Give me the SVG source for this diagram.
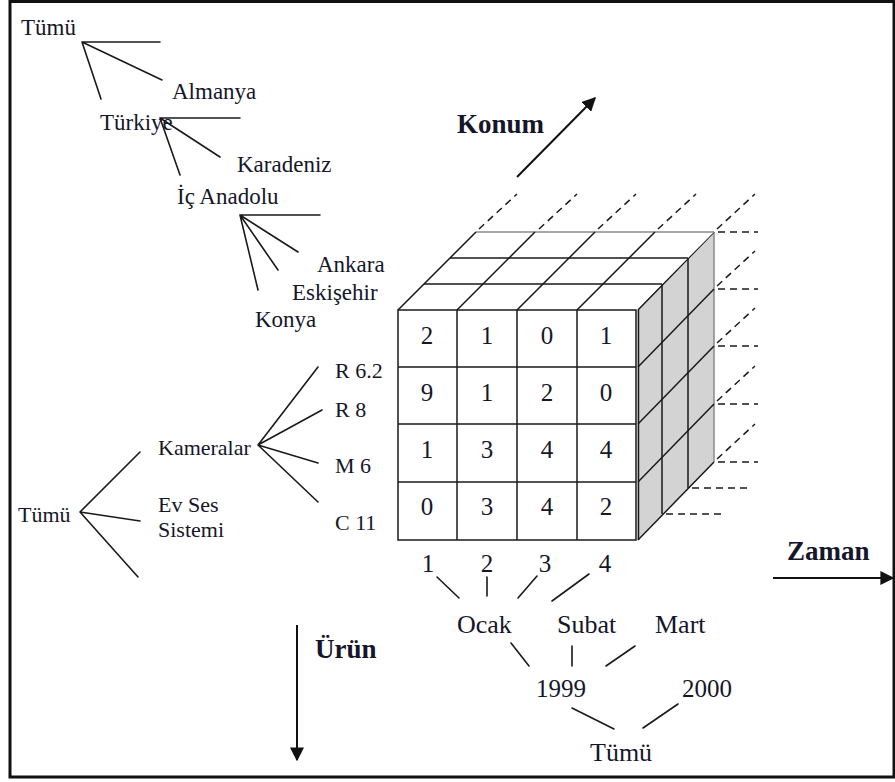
<svg xmlns="http://www.w3.org/2000/svg" width="895" height="782" viewBox="0 0 895 782">
<defs>
<style>
.t{font-family:"Liberation Serif","Times New Roman",serif;fill:#16162a}
.s22{font-size:22px}.s23{font-size:23px}.s25{font-size:25px}.s26{font-size:26px}
.b{font-weight:bold;font-size:27px}
.ln{stroke:#1a1a1a;stroke-width:1.6;fill:none;stroke-linecap:round}
.cl{stroke:#1a1a1a;stroke-width:1.5;fill:none}
.gl{stroke:#8a8a8a;stroke-width:1.5;fill:none}
.ds{stroke:#1a1a1a;stroke-width:1.5;fill:none;stroke-dasharray:7 5}
.ar{stroke:#111;stroke-width:2;fill:none}
</style>
<marker id="ah" viewBox="0 0 10 10" refX="9" refY="5" markerWidth="7" markerHeight="7" markerUnits="strokeWidth" orient="auto">
<path d="M0,0 L10,5 L0,10 z" fill="#111"/>
</marker>
</defs>
<rect x="0" y="0" width="895" height="782" fill="#fff"/>
<rect x="10" y="1.5" width="884" height="775.5" fill="none" stroke="#111" stroke-width="3"/>

<g id="connectors">
<path class="ln" d="M82,42 H160 M82,42 L162,80 M82,42 L101,99"/>
<path class="ln" d="M160,118 H240 M160,118 L220,157 M160,118 L180,175"/>
<path class="ln" d="M240,215 H320 M240,215 L298,252 M240,215 L278,270 M240,215 L258,290"/>
<path class="ln" d="M258,445 L318,367 M258,445 L322,410 M258,445 L318,463 M258,445 L318,502"/>
<path class="ln" d="M80,512 L140,452 M80,512 L140,521 M80,512 L138,577"/>
<path class="ln" d="M437,577 L459,598 M487,577 L487,596 M537,576 L518,598 M589,574 L552,601"/>
<path class="ln" d="M511,643 L529,666 M572,646 L572,666 M635,646 L606,666"/>
<path class="ln" d="M572,708 L614,729 M678,704 L643,728"/>
<line class="ar" x1="517" y1="177" x2="595" y2="98" marker-end="url(#ah)"/>
<line class="ar" x1="773" y1="578" x2="893" y2="578" marker-end="url(#ah)"/>
<line class="ar" x1="297" y1="625" x2="297" y2="760" marker-end="url(#ah)"/>
</g>

<g id="cube">
<path class="ds" d="M479,229 L517,194 M539,229 L577,194 M598,229 L636,194 M658,229 L696,194 M717,229 L755,194"/>
<path class="ds" d="M717,286 L755,251 M717,343 L755,308 M717,401 L755,366 M717,459 L755,424"/>
<path class="ds" d="M718,232 H758 M718,289 H758 M718,346 H758 M718,404 H758 M718,462 H758 M692,488 H749 M666,514 H723"/>
<polygon points="637,310 714,232 714,462 637,540" fill="#d3d3d3"/>
<path class="cl" d="M662,284 V514 M688,258 V488"/>
<path class="gl" d="M714,232 V462"/>
<path class="cl" d="M638,310 L714,232 M638,367 L714,289 M638,424 L714,346 M638,482 L714,404 M638,540 L714,462"/>
<polygon points="398,310 636,310 714,232 476,232" fill="#fff"/>
<path class="gl" d="M476,232 H714"/>
<path class="cl" d="M424,284 H662 M450,258 H688"/>
<path class="cl" d="M398,310 L476,232 M457,310 L535,232 M517,310 L595,232 M577,310 L655,232"/>
<rect x="398" y="310" width="238" height="230" fill="#fff" class="cl"/>
<path class="cl" d="M457,310 V540 M517,310 V540 M577,310 V540 M398,367 H636 M398,424 H636 M398,482 H636"/>
<line class="cl" x1="638.5" y1="310" x2="638.5" y2="540"/>
</g>

<g id="cells" class="t s25" text-anchor="middle">
<text x="427" y="344">2</text><text x="487" y="344">1</text><text x="547" y="344">0</text><text x="606" y="344">1</text>
<text x="427" y="401">9</text><text x="487" y="401">1</text><text x="547" y="401">2</text><text x="606" y="401">0</text>
<text x="427" y="458">1</text><text x="487" y="458">3</text><text x="547" y="458">4</text><text x="606" y="458">4</text>
<text x="427" y="515">0</text><text x="487" y="515">3</text><text x="547" y="515">4</text><text x="606" y="515">2</text>
</g>

<g id="loc-tumu"><text class="t s23" x="21" y="35">Tümü</text></g>
<g id="loc-almanya"><text class="t s23" x="172" y="99">Almanya</text></g>
<g id="loc-turkiye"><text class="t s23" x="100" y="130">Türkiye</text></g>
<g id="loc-karadeniz"><text class="t s23" x="237" y="172">Karadeniz</text></g>
<g id="loc-icanadolu"><text class="t s23" x="177" y="204">İç Anadolu</text></g>
<g id="loc-ankara"><text class="t s23" x="317" y="272">Ankara</text></g>
<g id="loc-eskisehir"><text class="t s23" x="292" y="300">Eskişehir</text></g>
<g id="loc-konya"><text class="t s23" x="255" y="327">Konya</text></g>

<g id="prod-r62"><text class="t s22" x="335" y="378">R 6.2</text></g>
<g id="prod-r8"><text class="t s22" x="335" y="417">R 8</text></g>
<g id="prod-m6"><text class="t s22" x="335" y="473">M 6</text></g>
<g id="prod-c11"><text class="t s22" x="335" y="530">C 11</text></g>
<g id="prod-kameralar"><text class="t s22" x="158" y="455">Kameralar</text></g>
<g id="prod-evses"><text class="t s22" x="158" y="512">Ev Ses</text><text class="t s22" x="158" y="537">Sistemi</text></g>
<g id="prod-tumu"><text class="t s22" x="18" y="522">Tümü</text></g>

<g id="time-days" class="t s25" text-anchor="middle">
<text x="428" y="572">1</text><text x="487" y="572">2</text><text x="545" y="572">3</text><text x="605" y="572">4</text>
</g>
<g id="time-ocak"><text class="t s26" x="457" y="633">Ocak</text></g>
<g id="time-subat"><text class="t s26" x="557" y="633">Subat</text></g>
<g id="time-mart"><text class="t s26" x="655" y="633">Mart</text></g>
<g id="time-1999"><text class="t s25" x="536" y="697">1999</text></g>
<g id="time-2000"><text class="t s25" x="682" y="697">2000</text></g>
<g id="time-tumu"><text class="t s26" x="590" y="761">Tümü</text></g>

<g id="axis-konum"><text class="t b" x="457" y="133">Konum</text></g>
<g id="axis-zaman"><text class="t b" x="787" y="560">Zaman</text></g>
<g id="axis-urun"><text class="t b" x="315" y="658">Ürün</text></g>
</svg>
